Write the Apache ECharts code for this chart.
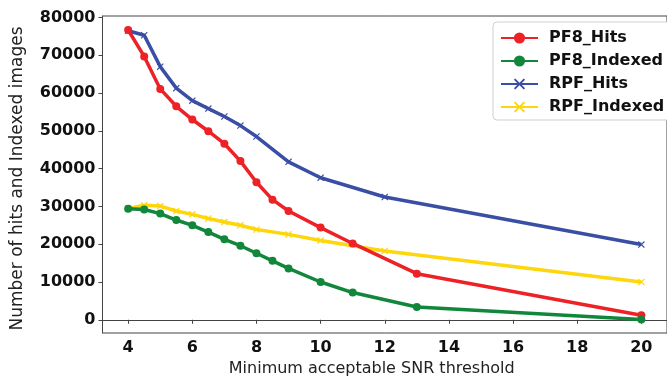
<!DOCTYPE html>
<html>
<head>
<meta charset="utf-8">
<script src="https://cdn.jsdelivr.net/npm/echarts@6/dist/echarts.min.js"></script>
<style>html,body{margin:0;padding:0;background:#fff}#c{width:667px;height:382px}</style>
</head>
<body>
<div id="c"></div>
<script>
const pf8X = [4, 4.5, 5, 5.5, 6, 6.5, 7, 7.5, 8, 8.5, 9, 10, 11, 13, 20];
const pf8Hits = [76700, 69700, 61100, 56500, 53000, 49900, 46600, 42000, 36400, 31800, 28800, 24400, 20200, 12200, 1200];
const pf8Indexed = [29400, 29200, 28100, 26400, 25000, 23200, 21300, 19600, 17600, 15600, 13600, 10000, 7200, 3400, 100];
const rpfX = [4, 4.5, 5, 5.5, 6, 6.5, 7, 7.5, 8, 9, 10, 12, 20];
const rpfHits = [76500, 75300, 67000, 61300, 58000, 55900, 53800, 51400, 48500, 41800, 37600, 32500, 19900];
const rpfIndexed = [29400, 30300, 30100, 28800, 27900, 26800, 25900, 25000, 23900, 22600, 21000, 18200, 10000];
const xTicks = [4, 6, 8, 10, 12, 14, 16, 18, 20];
const yTicks = [0, 10000, 20000, 30000, 40000, 50000, 60000, 70000, 80000];
const seriesNames = ['PF8_Hits', 'PF8_Indexed', 'RPF_Hits', 'RPF_Indexed'];

const colors = ['#ec2227', '#12873b', '#3a4ea5', '#fdd60b'];
const xSym = 'path://M0,1.2L1.2,0L5,3.8L8.8,0L10,1.2L6.2,5L10,8.8L8.8,10L5,6.2L1.2,10L0,8.8L3.8,5Z';

function pairs(xs, ys) { return xs.map((x, i) => [x, ys[i]]); }

const chart = echarts.init(document.getElementById('c'), null, {renderer: 'canvas'});
const font = 'DejaVu Sans';
function mk(name, xs, ys, color, sym, size) {
  return {
    name: name, type: 'line', data: pairs(xs, ys),
    symbol: sym, symbolSize: size, showSymbol: true,
    lineStyle: {color: color, width: 3.5},
    itemStyle: {color: color},
    emphasis: {disabled: true},
    animation: false
  };
}
chart.setOption({
  animation: false,
  color: colors,
  grid: {left: 102.5, right: -10, top: 16, bottom: 48, show: true, borderColor: '#444', borderWidth: 1},
  legend: {
    orient: 'vertical', left: 493, top: 22,
    data: seriesNames,
    padding: [8, 10, 5, 7],
    itemWidth: 37, itemHeight: 14, itemGap: 7,
    borderColor: '#cfcfcf', borderWidth: 1, borderRadius: 4, backgroundColor: '#fff',
    textStyle: {fontFamily: font, fontWeight: 'bold', fontSize: 16, color: '#111', lineHeight: 16, padding: [0, 0, 0, 6]}
  },
  xAxis: {
    type: 'value', min: 3.2, max: 20.8,
    name: 'Minimum acceptable SNR threshold', nameLocation: 'middle', nameGap: 28,
    nameTextStyle: {fontFamily: font, fontSize: 16, color: '#222', padding: [0, 26, 0, 0]},
    splitLine: {show: false},
    axisLine: {lineStyle: {color: '#444', width: 1}},
    axisTick: {show: true, length: 4, lineStyle: {color: '#444'}, customValues: xTicks},
    axisLabel: {fontFamily: font, fontWeight: 'bold', fontSize: 16, color: '#111', margin: 7, customValues: xTicks}
  },
  yAxis: {
    type: 'value', min: -3500, max: 80400,
    name: 'Number of hits and Indexed images', nameLocation: 'middle', nameGap: 76,
    nameTextStyle: {fontFamily: font, fontSize: 17, color: '#222', padding: [0, 8, 0, 0]},
    splitLine: {show: false},
    axisLine: {show: true, lineStyle: {color: '#444', width: 1}},
    axisTick: {show: true, length: 4, lineStyle: {color: '#444'}, customValues: yTicks},
    axisLabel: {fontFamily: font, fontWeight: 'bold', fontSize: 16, color: '#111', margin: 7, customValues: yTicks,
      formatter: function (v) { return String(v); }}
  },
  series: [
    mk('RPF_Hits', rpfX, rpfHits, colors[2], xSym, 7),
    mk('RPF_Indexed', rpfX, rpfIndexed, colors[3], xSym, 7),
    mk('PF8_Hits', pf8X, pf8Hits, colors[0], 'circle', 8),
    mk('PF8_Indexed', pf8X, pf8Indexed, colors[1], 'circle', 8)
  ]
});
</script>
</body>
</html>
